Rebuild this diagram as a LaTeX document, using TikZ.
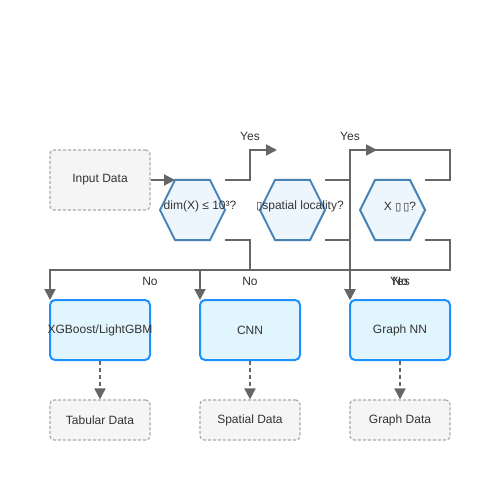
\documentclass[tikz,border=0pt]{standalone}
\usepackage{fontspec}
\setmainfont{Liberation Sans}
\newfontfamily\dvfont{DejaVu Sans}
\usetikzlibrary{arrows.meta}
\definecolor{linegray}{HTML}{666666}
\definecolor{txtgray}{HTML}{333333}
\definecolor{hexfill}{HTML}{EEF6FD}
\definecolor{hexdraw}{HTML}{4682B4}
\definecolor{modfill}{HTML}{E1F5FE}
\definecolor{moddraw}{HTML}{1E90FF}
\definecolor{datfill}{HTML}{F5F5F5}
\definecolor{datdraw}{HTML}{AAAAAA}
\newcommand{\tofu}{{\dvfont\fontsize{11bp}{12bp}\selectfont ▯}}
\tikzset{
  every node/.style={font=\fontsize{12bp}{14bp}\selectfont, text=txtgray},
  databox/.style={draw=datdraw, fill=datfill, rounded corners=4bp, line width=1.2bp,
    dash pattern=on 3bp off 2bp, minimum width=100bp, inner sep=0pt},
  modelbox/.style={draw=moddraw, fill=modfill, rounded corners=5bp, line width=2bp,
    minimum width=100bp, minimum height=60bp, inner sep=0pt},
  hexshape/.style={draw=hexdraw, fill=hexfill, line width=2bp, line join=miter},
  conn/.style={draw=linegray, line width=2bp, -{Triangle[length=11bp,width=11bp]}},
  dconn/.style={draw=linegray, line width=2bp, dash pattern=on 4bp off 3bp,
    -{Triangle[length=11bp,width=11bp]}},
  lbl/.style={inner sep=0pt}
}
\begin{document}
\begin{tikzpicture}[x=1bp,y=-1bp]
\useasboundingbox (0,0) rectangle (500,500);
\fill[white] (0,0) rectangle (500,500);

% input
\node[databox, minimum height=60bp] (in) at (100,180) {Input Data};

% hexagons
\foreach \n/\cx in {h1/192.5, h2/292.5, h3/392.5} {
  \path[hexshape] (\cx-32.5,210) -- (\cx-17.5,180) -- (\cx+17.5,180) -- (\cx+32.5,210)
     -- (\cx+17.5,240) -- (\cx-17.5,240) -- cycle;
  \coordinate (\n-tl) at (\cx-17.5,180);
  \coordinate (\n-ne) at (\cx+32.5,180);
  \coordinate (\n-se) at (\cx+32.5,240);
}
\node[lbl] (t1) at (200,206.5) {dim(X) ≤ 10³?};
\node[lbl] (t2) at (300,206.5) {\tofu spatial locality?};
\node[lbl] (t3) at (400,206.5) {X \tofu\,\tofu?};

% models
\node[modelbox] (xgb) at (100,330) {\makebox[80bp]{XGBoost/LightGBM}};
\node[modelbox] (cnn) at (250,330) {CNN};
\node[modelbox] (gnn) at (400,330) {Graph NN};

% data
\node[databox, minimum height=40bp] (tab) at (100,420) {Tabular Data};
\node[databox, minimum height=40bp] (spa) at (250,420) {Spatial Data};
\node[databox, minimum height=40bp] (gra) at (400,420) {Graph Data};

% targets of the "Yes" arrows
\coordinate (y1end) at (277,150);
\coordinate (y2end) at (377,150);
\coordinate (xgbin) at (50,300);
\coordinate (cnnin) at (200,300);
\coordinate (gnnin) at (350,300);

% connectors
\draw[conn] (in.east) -- (h1-tl);
\draw[conn] (h1-ne) -- ++(25,0) |- (y1end);
\draw[conn] (h1-se) -- ++(25,0) -- ++(0,30) -| (xgbin);
\draw[conn] (h2-ne) -- ++(25,0) |- (y2end);
\draw[conn] (h2-se) -- ++(25,0) -- ++(0,30) -| (cnnin);
\draw[conn] (h3-ne) -- ++(25,0) -- ++(0,-30) -| (gnnin);
\draw[conn] (h3-se) -- ++(25,0) -- ++(0,30) -| (gnnin);

\draw[dconn] (xgb.south) -- (tab.north);
\draw[dconn] (cnn.south) -- (spa.north);
\draw[dconn] (gnn.south) -- (gra.north);

% labels
\node[lbl] (l1) at (250,136) {Yes};
\node[lbl] (l2) at (350,136) {Yes};
\node[lbl] (l3) at (150,281) {No};
\node[lbl] (l4) at (250,281) {No};
\node[lbl] (l5) at (400,281) {Yes};
\node[lbl] (l6) at (400,281) {No};
\end{tikzpicture}
\end{document}
